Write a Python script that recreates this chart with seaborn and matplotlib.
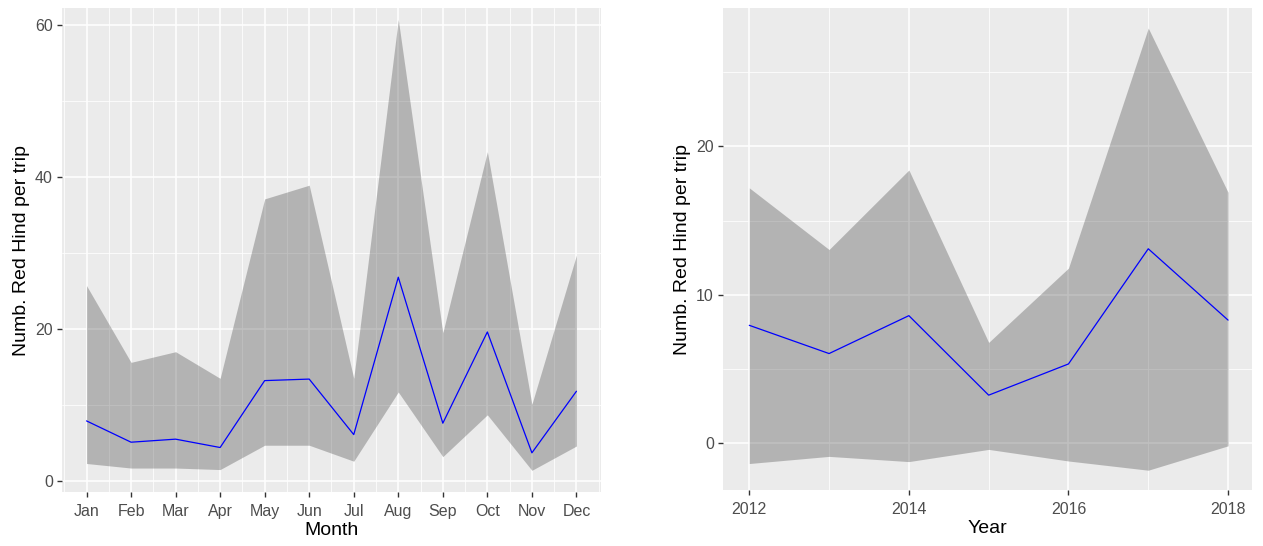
import matplotlib
matplotlib.use("Agg")
import matplotlib.pyplot as plt
import numpy as np
import pandas as pd
import seaborn as sns


MONTHS = ["Jan", "Feb", "Mar", "Apr", "May", "Jun", "Jul", "Aug", "Sep", "Oct", "Nov", "Dec"]
MONTH_MEAN = [7.9, 5.1, 5.5, 4.4, 13.2, 13.4, 6.1, 26.8, 7.6, 19.6, 3.7, 11.8]
MONTH_UPPER = [25.7, 15.6, 17.0, 13.5, 37.1, 38.9, 13.5, 60.7, 19.5, 43.3, 10.1, 29.7]
MONTH_LOWER = [2.3, 1.7, 1.7, 1.5, 4.7, 4.7, 2.6, 11.7, 3.2, 8.7, 1.4, 4.6]

YEARS = [2012, 2013, 2014, 2015, 2016, 2017, 2018]
YEAR_MEAN = [7.95, 6.05, 8.6, 3.25, 5.35, 13.1, 8.3]
YEAR_UPPER = [17.2, 13.05, 18.4, 6.8, 11.8, 27.95, 16.9]
YEAR_LOWER = [-1.35, -0.87, -1.22, -0.4, -1.18, -1.8, -0.16]

Y_LABEL = "Numb. Red Hind per trip"


def setup_style() -> None:
    sns.set_theme(style="darkgrid")
    plt.rcParams["font.family"] = ["Liberation Sans", "DejaVu Sans"]
    plt.rcParams["axes.facecolor"] = "#EBEBEB"
    plt.rcParams["figure.facecolor"] = "white"


def style_axes(ax, xmajor, xminor, ymajor, yminor) -> None:
    ax.set_xticks(xmajor)
    ax.set_xticks(xminor, minor=True)
    ax.set_yticks(ymajor)
    ax.set_yticks(yminor, minor=True)
    ax.grid(which="major", color="white", linewidth=1.1)
    ax.grid(which="minor", color="white", linewidth=0.55)
    ax.set_axisbelow(True)
    for spine in ax.spines.values():
        spine.set_visible(False)
    ax.tick_params(which="major", length=3.5, width=1.0, color="#333333",
                   labelcolor="#4D4D4D", labelsize=11.5, bottom=True, left=True)
    ax.tick_params(axis="x", which="major", pad=5)
    ax.tick_params(axis="y", which="major", pad=3)
    ax.tick_params(which="minor", length=0, bottom=False, left=False)
    ax.xaxis.label.set_size(14)
    ax.yaxis.label.set_size(14)
    ax.xaxis.label.set_color("black")
    ax.yaxis.label.set_color("black")
    ax.xaxis.labelpad = 2
    ax.yaxis.labelpad = 4


def plot_month(ax) -> None:
    month_num = np.arange(1, len(MONTHS) + 1)
    df = pd.DataFrame({"Month": month_num, "Mean": MONTH_MEAN,
                       "Lower": MONTH_LOWER, "Upper": MONTH_UPPER})
    ax.fill_between(df["Month"], df["Lower"], df["Upper"], color="#4D4D4D", alpha=0.35,
                    linewidth=0, zorder=2)
    sns.lineplot(data=df, x="Month", y="Mean", ax=ax, color="#0000FF", linewidth=0.9, zorder=3)
    ax.set_xlim(0.45, 12.55)
    ax.set_ylim(-1.45, 62.2)
    style_axes(ax, month_num, np.arange(0.5, 13.0, 1.0), [0, 20, 40, 60], [10, 30, 50])
    ax.set_xticklabels(MONTHS)
    ax.set_xlabel("Month")
    ax.set_ylabel(Y_LABEL)


def plot_year(ax) -> None:
    df = pd.DataFrame({"Year": YEARS, "Mean": YEAR_MEAN,
                       "Lower": YEAR_LOWER, "Upper": YEAR_UPPER})
    ax.fill_between(df["Year"], df["Lower"], df["Upper"], color="#4D4D4D", alpha=0.35,
                    linewidth=0, zorder=2)
    sns.lineplot(data=df, x="Year", y="Mean", ax=ax, color="#0000FF", linewidth=0.9, zorder=3)
    ax.set_xlim(2011.67, 2018.3)
    ax.set_ylim(-3.13, 29.3)
    style_axes(ax, [2012, 2014, 2016, 2018], [2013, 2015, 2017], [0, 10, 20], [5, 15, 25])
    ax.set_xticklabels(["2012", "2014", "2016", "2018"])
    ax.set_xlabel("Year")
    ax.set_ylabel(Y_LABEL)


def main() -> None:
    setup_style()
    fig = plt.figure(figsize=(12.63, 5.46), dpi=100)
    ax1 = fig.add_axes([0.0491, 0.0989, 0.4267, 0.8864])
    ax2 = fig.add_axes([0.5724, 0.1026, 0.4189, 0.8827])
    plot_month(ax1)
    plot_year(ax2)
    fig.savefig("out.png", dpi=100)
    plt.close(fig)


if __name__ == "__main__":
    main()
